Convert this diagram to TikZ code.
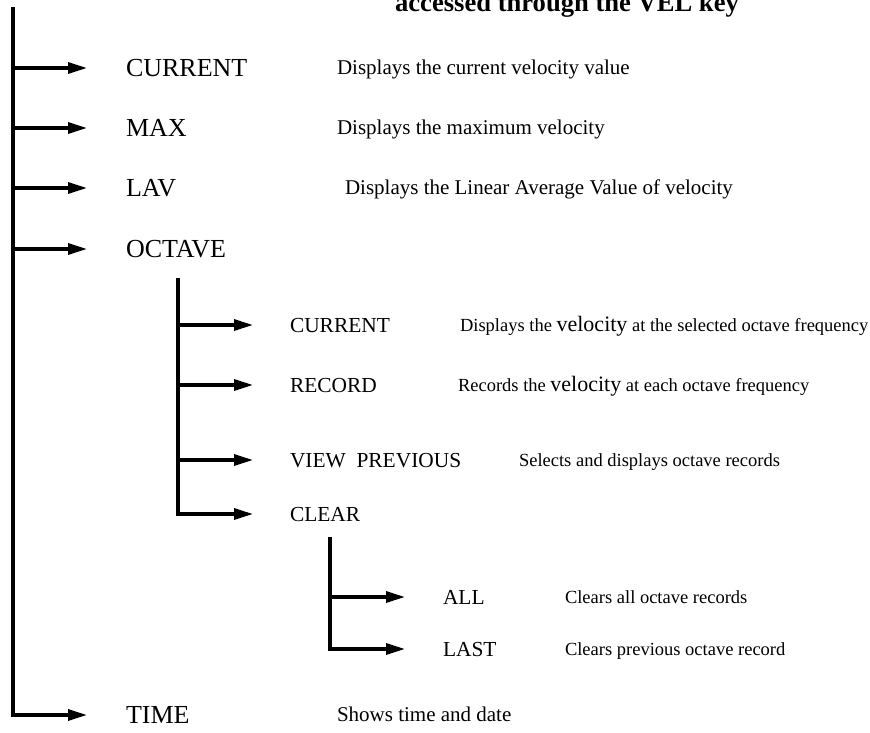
\documentclass[tikz,border=0pt]{standalone}
\usepackage{fontspec}
\setmainfont{Liberation Serif}
\usetikzlibrary{arrows.meta}
\begin{document}
\begin{tikzpicture}[x=1pt,y=-1pt,
  every node/.style={inner sep=0pt, outer sep=0pt, anchor=west, text depth=0pt},
  lone/.style={font=\fontsize{26}{30}\selectfont, text height=17.2pt},
  done/.style={font=\fontsize{21}{25}\selectfont, text height=13.9pt},
  ltwo/.style={font=\fontsize{21.4}{25}\selectfont, text height=14.2pt},
  dtwo/.style={font=\fontsize{18.5}{22}\selectfont, text height=12.2pt},
  bus/.style={line width=3.2pt, line join=miter, line cap=butt},
  arr/.style={bus, -{Triangle[length=19pt,width=11pt]}},
]
\useasboundingbox (0,0) rectangle (870,733);

% heading (partly above the page edge)
\node[font=\bfseries\fontsize{26.6}{30}\selectfont, anchor=base, text height=] (title) at (567,12) {accessed through the VEL key};

% first level
\node[lone] (cur)  at (126,68)  {CURRENT};
\node[lone] (max)  at (126,128) {MAX};
\node[lone] (lav)  at (126,188) {LAV};
\node[lone] (oct)  at (126,249) {OCTAVE};
\node[lone] (time) at (126,715) {TIME};

\node[done] (dcur)  at (337,68)  {Displays the current velocity value};
\node[done] (dmax)  at (337,128) {Displays the maximum velocity};
\node[done] (dlav)  at (345,188) {Displays the Linear Average Value of velocity};
\node[done] (dtime) at (337,715) {Shows time and date};

% second level (octave)
\node[ltwo] (ocur)  at (290,325) {CURRENT};
\node[ltwo] (orec)  at (290,385) {RECORD};
\node[ltwo] (oview) at (290,460) {VIEW\ \ PREVIOUS};
\node[ltwo] (oclr)  at (290,514) {CLEAR};

\node[dtwo] (docur)  at (460,325) {Displays the {\fontsize{22}{26}\selectfont velocity} at the selected octave frequency};
\node[dtwo] (dorec)  at (458,385) {Records the {\fontsize{22}{26}\selectfont velocity} at each octave frequency};
\node[dtwo] (doview) at (519,460) {Selects and displays octave records};

% third level (clear)
\node[ltwo] (call)  at (443,597) {ALL};
\node[ltwo] (clast) at (443,649) {LAST};

\node[dtwo] (dcall)  at (565,597) {Clears all octave records};
\node[dtwo] (dclast) at (565,649) {Clears previous octave record};

% bus coordinates
\coordinate (m0) at (13,7);
\coordinate (m1) at (13,68);
\coordinate (m2) at (13,128);
\coordinate (m3) at (13,188);
\coordinate (m4) at (13,249);
\coordinate (mT) at (13,715);

\coordinate (s0) at (178,278);
\coordinate (s1) at (178,325);
\coordinate (s2) at (178,385);
\coordinate (s3) at (178,460);
\coordinate (sC) at (178,514);

\coordinate (t0) at (330,537);
\coordinate (t1) at (330,597);
\coordinate (tL) at (330,649);

% connectors
\draw[arr, shorten >=39pt] (m0) -- (mT) -- (time);
\draw[arr, shorten >=39pt] (m1) -- (cur);
\draw[arr, shorten >=39pt] (m2) -- (max);
\draw[arr, shorten >=39pt] (m3) -- (lav);
\draw[arr, shorten >=39pt] (m4) -- (oct);

\draw[arr, shorten >=37pt] (s0) -- (sC) -- (oclr);
\draw[arr, shorten >=37pt] (s1) -- (ocur);
\draw[arr, shorten >=37pt] (s2) -- (orec);
\draw[arr, shorten >=37pt] (s3) -- (oview);

\draw[arr, shorten >=38pt] (t0) -- (tL) -- (clast);
\draw[arr, shorten >=38pt] (t1) -- (call);
\end{tikzpicture}
\end{document}
